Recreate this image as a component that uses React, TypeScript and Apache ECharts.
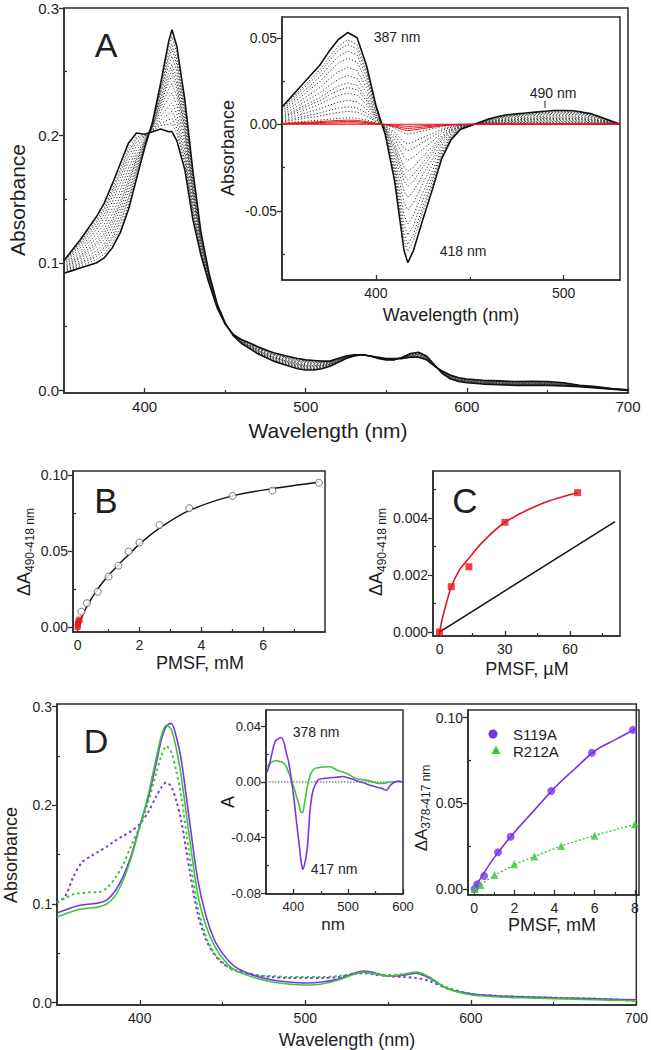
import React, { useEffect, useRef } from "react";
import * as echarts from "echarts";

const FONT = "'Liberation Sans', Arial, Helvetica, sans-serif";
const INK = "#2e2e2e";
const TXT = "#1e1e1e";
const PURPLE = "#7b35e6";
const GREEN = "#3cc43c";
const RED = "#e8141c";

// ---------- Panel A: absorbance spectra (start and end of the titration) ----------
const WL_MAIN = [350,355,360,365,370,375,380,385,390,395,400,405,410,415,417,420,425,430,435,440,445,450,455,460,465,470,475,480,485,490,495,500,505,510,515,520,525,530,535,540,545,550,555,560,565,570,575,580,585,590,595,600,610,620,630,640,650,660,670,680,690,700];
const A_INITIAL = [0.092,0.094,0.096,0.098,0.100,0.104,0.112,0.124,0.142,0.166,0.190,0.211,0.241,0.274,0.283,0.270,0.228,0.172,0.124,0.092,0.068,0.053,0.043,0.037,0.033,0.029,0.026,0.023,0.021,0.019,0.017,0.016,0.016,0.017,0.019,0.022,0.025,0.027,0.028,0.027,0.025,0.024,0.024,0.026,0.029,0.030,0.027,0.020,0.013,0.009,0.007,0.006,0.005,0.0045,0.004,0.004,0.004,0.0035,0.003,0.002,0.001,0.000];
const A_FINAL = [0.102,0.110,0.118,0.127,0.136,0.147,0.162,0.178,0.194,0.202,0.201,0.203,0.205,0.203,0.203,0.196,0.173,0.134,0.106,0.084,0.065,0.052,0.044,0.040,0.0375,0.0345,0.032,0.0295,0.028,0.0265,0.025,0.024,0.0235,0.023,0.023,0.025,0.027,0.028,0.028,0.027,0.026,0.025,0.025,0.025,0.026,0.026,0.024,0.019,0.015,0.012,0.010,0.009,0.008,0.0075,0.007,0.0072,0.007,0.006,0.004,0.003,0.0015,0.0005];
// fraction of the full change reached at each intermediate PMSF addition (dotted traces)
const TITRATION_FRACTIONS = [0.07,0.14,0.19,0.26,0.34,0.40,0.45,0.53,0.62,0.72,0.80,0.87,0.92];
// micromolar additions (red traces in the inset)
const MICROMOLAR_FRACTIONS = [0,0.015,0.03,0.045];

// Inset A: difference spectrum at saturation
const WL_INSET = [350,355,360,365,370,375,380,385,390,395,400,405,410,415,417,420,425,430,435,440,445,450,455,460,465,470,475,480,485,490,495,500,505,510,515,520,525,530];
const DIFF_MAX = [0.010,0.016,0.022,0.028,0.034,0.042,0.049,0.053,0.050,0.034,0.011,-0.006,-0.033,-0.073,-0.080,-0.073,-0.055,-0.038,-0.020,-0.009,-0.003,-0.001,0.001,0.003,0.0045,0.0055,0.006,0.0065,0.007,0.0075,0.008,0.008,0.0078,0.007,0.006,0.004,0.002,0.000];

// ---------- Panel B ----------
const B_PMSF_MM = [0.12,0.30,0.65,1.0,1.32,1.65,2.0,2.65,3.61,5.01,6.3,7.8];
const B_DA = [0.010,0.0156,0.0232,0.0331,0.0403,0.0496,0.0555,0.0671,0.0781,0.0862,0.0897,0.0949];
const B_RED_MM = [0,0.0054,0.0135,0.0301,0.0635];
const B_RED_DA = [0,0.00159,0.00229,0.00385,0.00489];
const B_FIT_X = [0,0.15,0.3,0.65,1,1.35,1.65,2,2.65,3.6,5,6.3,7.8];
const B_FIT_Y = [0,0.0070,0.0135,0.0250,0.0340,0.0415,0.0475,0.0545,0.0650,0.0765,0.0862,0.0910,0.0952];

// ---------- Panel C ----------
const C_PMSF_UM = [0,5.4,13.5,30.1,63.5];
const C_DA = [0,0.00159,0.00229,0.00385,0.00489];
const C_FIT_X = [0,1.5,3.1,5.4,9.2,13.5,20,30.1,47.5,63.5];
const C_FIT_Y = [0,0.00054,0.0010,0.00159,0.00218,0.00259,0.00317,0.00385,0.00452,0.00489];
const C_LINE_X = [0,80.7];
const C_LINE_Y = [0,0.00387];

// ---------- Panel D ----------
const WL_D = [350,355,360,365,370,375,380,385,390,395,400,405,410,413,416,419,422,425,430,435,440,445,450,455,460,470,480,490,500,510,520,530,535,540,550,560,567,575,585,600,615,630,650,675,700];
const S119A_SOLID = [0.091,0.094,0.097,0.099,0.100,0.101,0.104,0.113,0.128,0.150,0.179,0.207,0.243,0.266,0.280,0.283,0.270,0.247,0.185,0.125,0.088,0.064,0.050,0.040,0.034,0.027,0.023,0.021,0.020,0.021,0.024,0.030,0.032,0.031,0.027,0.028,0.030,0.025,0.015,0.009,0.007,0.006,0.005,0.004,0.003];
const R212A_SOLID = [0.087,0.090,0.093,0.095,0.096,0.097,0.100,0.108,0.124,0.148,0.178,0.210,0.248,0.270,0.281,0.277,0.258,0.230,0.168,0.110,0.078,0.058,0.045,0.036,0.031,0.025,0.021,0.019,0.018,0.019,0.023,0.029,0.031,0.030,0.027,0.029,0.031,0.026,0.015,0.008,0.006,0.005,0.004,0.003,0.002];
const S119A_PMSF = [0.101,0.108,0.128,0.142,0.148,0.153,0.158,0.164,0.169,0.174,0.181,0.193,0.209,0.218,0.223,0.219,0.205,0.185,0.135,0.090,0.064,0.049,0.040,0.035,0.032,0.028,0.026,0.025,0.025,0.025,0.026,0.029,0.030,0.029,0.027,0.026,0.025,0.022,0.015,0.009,0.007,0.006,0.005,0.004,0.002];
const R212A_PMSF = [0.102,0.106,0.110,0.111,0.112,0.112,0.116,0.126,0.140,0.160,0.178,0.203,0.233,0.250,0.260,0.254,0.235,0.210,0.150,0.097,0.067,0.050,0.041,0.034,0.031,0.028,0.027,0.026,0.026,0.026,0.027,0.030,0.031,0.030,0.028,0.029,0.030,0.025,0.016,0.009,0.007,0.006,0.005,0.004,0.002];

// Inset D1: difference spectra
const WL_D1 = [352,356,360,364,368,372,378,383,387,391,394,397,401,406,410,414,417,420,423,426,430,433,436,440,445,455,467,480,491,500,509,518,528,537,546,555,561,566,570,574,578,585,592,600];
const S119A_DIFF = [0.007,0.012,0.019,0.026,0.030,0.031,0.032,0.028,0.021,0.015,0.008,0.000,-0.012,-0.030,-0.043,-0.057,-0.063,-0.060,-0.054,-0.045,-0.022,-0.012,-0.006,-0.002,0.0015,0.0025,0.003,0.0035,0.004,0.003,0.002,0.0005,-0.0005,-0.002,-0.003,-0.004,-0.0045,-0.0055,-0.006,-0.004,-0.002,0.000,0.0005,0.000];
const R212A_DIFF = [0.011,0.013,0.014,0.015,0.0155,0.015,0.0145,0.013,0.011,0.007,0.004,0.000,-0.004,-0.011,-0.016,-0.022,-0.022,-0.016,-0.009,-0.002,0.004,0.007,0.0086,0.0098,0.0103,0.0108,0.011,0.0085,0.007,0.0058,0.0035,0.0022,0.0015,0.001,0.000,-0.001,-0.001,-0.0008,-0.0005,-0.0003,0.000,0.000,0.0005,0.000];

// Inset D2: binding curves
const S119A_MM = [0.03,0.15,0.5,1.19,1.82,3.84,5.86,7.9];
const S119A_DA = [0,0.0027,0.0076,0.0214,0.0305,0.0572,0.0795,0.0928];
const S119A_FIT_X = [0,0.5,1,2,3,4,5,6,7,8];
const S119A_FIT_Y = [0,0.0095,0.0183,0.0330,0.0460,0.0590,0.0700,0.0805,0.0870,0.0932];
const R212A_MM = [0.03,0.33,1.02,2.0,3.0,4.33,5.99,8.0];
const R212A_DA = [0,0.0023,0.0082,0.0144,0.0189,0.0251,0.0311,0.0377];
const R212A_FIT_X = [0,0.33,1,2,3,4.33,6,8];
const R212A_FIT_Y = [0,0.0025,0.0077,0.0140,0.0190,0.0250,0.0312,0.0377];

const pairs = (xs: number[], ys: number[]) => xs.map((x, i) => [x, ys[i]]);

type AxisSpec = {
  min: number; max: number; majors: number[]; minors: number[];
  dec: number; fs: number;
};

function buildOption() {
  const grids: any[] = [];
  const xAxes: any[] = [];
  const yAxes: any[] = [];
  const series: any[] = [];

  const major = (kind: "x" | "y", gi: number, a: AxisSpec) => ({
    type: "value", gridIndex: gi, min: a.min, max: a.max,
    position: kind === "x" ? "bottom" : "left",
    splitLine: { show: false },
    axisLine: { show: true, onZero: false, lineStyle: { color: INK, width: 1.6 } },
    axisTick: { show: true, inside: kind === "x", length: 5, customValues: a.majors, lineStyle: { color: INK, width: 1.3 } },
    axisLabel: {
      show: true, customValues: a.majors, margin: kind === "x" ? 6 : 5,
      formatter: (v: number) => v.toFixed(a.dec),
      fontSize: a.fs, fontFamily: FONT, color: TXT,
    },
  });
  const minor = (kind: "x" | "y", gi: number, a: AxisSpec) => ({
    type: "value", gridIndex: gi, min: a.min, max: a.max,
    position: kind === "x" ? "bottom" : "left",
    splitLine: { show: false },
    axisLine: { show: false, onZero: false },
    axisTick: { show: true, inside: true, length: 3, customValues: a.minors, lineStyle: { color: INK, width: 1.2 } },
    axisLabel: { show: false },
  });

  const panel = (rect: number[], x: AxisSpec, y: AxisSpec) => {
    const gi = grids.length;
    grids.push({
      left: rect[0], top: rect[1], width: rect[2] - rect[0], height: rect[3] - rect[1],
      show: true, borderColor: INK, borderWidth: 1.5, backgroundColor: "transparent",
    });
    const xi = xAxes.length;
    xAxes.push(major("x", gi, x), minor("x", gi, x));
    const yi = yAxes.length;
    yAxes.push(major("y", gi, y), minor("y", gi, y));
    return { xi, yi };
  };

  const line = (p: any, data: number[][], color: string, width: number, type: any = "solid", smooth: any = false, name?: string) => {
    series.push({
      type: "line", name, xAxisIndex: p.xi, yAxisIndex: p.yi, data, symbol: "none", showSymbol: false,
      smooth, lineStyle: { color, width, type }, silent: true, z: 3,
    });
  };
  const scatter = (p: any, data: number[][], symbol: string, size: number, itemStyle: any, name?: string) => {
    series.push({
      type: "scatter", name, xAxisIndex: p.xi, yAxisIndex: p.yi, data, symbol, symbolSize: size,
      itemStyle, silent: true, z: 4,
    });
  };

  // ---- A main
  const pA = panel([64, 8, 628, 393],
    { min: 350, max: 700, majors: [400, 500, 600, 700], minors: [450, 550, 650], dec: 0, fs: 15 },
    { min: -0.002, max: 0.3, majors: [0, 0.1, 0.2, 0.3], minors: [0.05, 0.15, 0.25], dec: 1, fs: 15 });
  TITRATION_FRACTIONS.forEach((f) => {
    line(pA, WL_MAIN.map((w, i) => [w, A_INITIAL[i] + f * (A_FINAL[i] - A_INITIAL[i])]), "#333", 1, [1.2, 2]);
  });
  line(pA, pairs(WL_MAIN, A_INITIAL), "#111", 1.6);
  line(pA, pairs(WL_MAIN, A_FINAL), "#111", 1.6);

  // ---- A inset
  const pAi = panel([282, 17, 620, 280],
    { min: 350, max: 530, majors: [400, 500], minors: [450], dec: 0, fs: 14 },
    { min: -0.09, max: 0.062, majors: [-0.05, 0, 0.05], minors: [-0.075, -0.025, 0.025], dec: 2, fs: 14 });
  TITRATION_FRACTIONS.forEach((f) => {
    line(pAi, WL_INSET.map((w, i) => [w, f * DIFF_MAX[i]]), "#333", 1, [1.2, 2]);
  });
  line(pAi, pairs(WL_INSET, DIFF_MAX), "#111", 1.6);
  MICROMOLAR_FRACTIONS.forEach((f) => {
    line(pAi, WL_INSET.map((w, i) => [w, f * DIFF_MAX[i]]), RED, 1);
  });

  // ---- B
  const pB = panel([73, 471, 325, 632],
    { min: -0.15, max: 8, majors: [0, 2, 4, 6], minors: [1, 3, 5, 7], dec: 0, fs: 14 },
    { min: -0.0033, max: 0.1026, majors: [0, 0.05, 0.1], minors: [0.025, 0.075], dec: 2, fs: 14 });
  line(pB, pairs(B_FIT_X, B_FIT_Y), "#111", 1.4, "solid", 0.3);
  scatter(pB, pairs(B_PMSF_MM, B_DA), "circle", 7, { color: "#fff", borderColor: "#555", borderWidth: 1 });
  scatter(pB, pairs(B_RED_MM, B_RED_DA), "rect", 6, { color: RED });

  // ---- C
  const pC = panel([433, 471, 620, 636],
    { min: -3, max: 83, majors: [0, 30, 60], minors: [15, 45, 75], dec: 0, fs: 14 },
    { min: -0.00014, max: 0.00565, majors: [0, 0.002, 0.004], minors: [0.001, 0.003, 0.005], dec: 3, fs: 14 });
  line(pC, pairs(C_LINE_X, C_LINE_Y), "#111", 1.5);
  line(pC, pairs(C_FIT_X, C_FIT_Y), RED, 1.6, "solid", 0.3);
  scatter(pC, pairs(C_PMSF_UM, C_DA), "rect", 7, { color: RED });

  // ---- D main
  const pD = panel([57, 704, 640, 1005],
    { min: 350, max: 700, majors: [400, 500, 600, 700], minors: [450, 550, 650], dec: 0, fs: 14 },
    { min: -0.0023, max: 0.3026, majors: [0, 0.1, 0.2, 0.3], minors: [0.05, 0.15, 0.25], dec: 1, fs: 14 });
  line(pD, pairs(WL_D, S119A_PMSF), PURPLE, 2, [2.5, 3], 0.3);
  line(pD, pairs(WL_D, R212A_PMSF), GREEN, 2, [2.5, 3], 0.3);
  line(pD, pairs(WL_D, S119A_SOLID), PURPLE, 1.6, "solid", 0.3);
  line(pD, pairs(WL_D, R212A_SOLID), GREEN, 1.6, "solid", 0.3);

  // ---- D inset 1
  const pD1 = panel([266, 710, 403, 894],
    { min: 350, max: 600, majors: [400, 500, 600], minors: [450, 550], dec: 0, fs: 13 },
    { min: -0.0806, max: 0.0518, majors: [-0.08, -0.04, 0, 0.04], minors: [-0.06, -0.02, 0.02], dec: 2, fs: 13 });
  line(pD1, [[350, 0], [600, 0]], "#555", 1, [1.5, 1.5]);
  line(pD1, pairs(WL_D1, R212A_DIFF), GREEN, 1.6, "solid", 0.2);
  line(pD1, pairs(WL_D1, S119A_DIFF), PURPLE, 1.6, "solid", 0.2);

  // ---- D inset 2
  const pD2 = panel([468, 710, 639, 895],
    { min: -0.3, max: 8.2, majors: [0, 2, 4, 6, 8], minors: [1, 3, 5, 7], dec: 0, fs: 14 },
    { min: -0.0035, max: 0.1044, majors: [0, 0.05, 0.1], minors: [0.025, 0.075], dec: 2, fs: 14 });
  line(pD2, pairs(S119A_FIT_X, S119A_FIT_Y), PURPLE, 1.6, "solid", 0.3);
  line(pD2, pairs(R212A_FIT_X, R212A_FIT_Y), GREEN, 1.4, [2, 2], 0.3);
  scatter(pD2, pairs(S119A_MM, S119A_DA), "circle", 8, { color: PURPLE }, "S119A");
  scatter(pD2, pairs(R212A_MM, R212A_DA), "triangle", 8, { color: GREEN }, "R212A");

  // ---- texts
  const t = (text: string, x: number, y: number, fontSize: number, extra: any = {}) => ({
    type: "text", x, y, silent: true, z: 20,
    rotation: extra.rot ? Math.PI / 2 : 0,
    style: {
      text, fontSize, fontFamily: FONT, fill: TXT,
      align: extra.align || "center", verticalAlign: "middle", rich: extra.rich,
    },
  });
  const sub = (a: string, s: string, x: number, y: number, fa: number, fsub: number) =>
    t(`{a|${a}}{s|${s}}`, x, y, fa, {
      rot: true,
      rich: {
        a: { fontSize: fa, fontFamily: FONT, fill: TXT, lineHeight: fa + 5 },
        s: { fontSize: fsub, fontFamily: FONT, fill: TXT, verticalAlign: "bottom" },
      },
    });

  const graphic: any[] = [
    t("A", 106, 45, 34),
    t("Absorbance", 17, 200, 21, { rot: true }),
    t("Wavelength (nm)", 328, 430, 21),
    t("Absorbance", 228, 148, 18, { rot: true }),
    t("Wavelength (nm)", 451, 315, 18),
    t("387 nm", 397, 37, 14),
    t("490 nm", 553, 93, 14),
    t("418 nm", 463, 251, 14),
    { type: "line", silent: true, z: 20, shape: { x1: 545, y1: 101, x2: 545, y2: 108 }, style: { stroke: "#222", lineWidth: 1 } },

    t("B", 106, 500, 35),
    t("PMSF, mM", 200, 663, 18),
    sub("ΔA", "490-418 nm", 24, 552, 18, 12),

    t("C", 465, 500, 35),
    t("PMSF, µM", 527, 669, 18),
    sub("ΔA", "490-418 nm", 376, 552, 18, 12),

    t("D", 96, 741, 34),
    t("Absorbance", 11, 855, 18, { rot: true }),
    t("Wavelength (nm)", 347, 1040, 18),
    t("A", 228, 802, 18, { rot: true }),
    t("nm", 333, 924, 17),
    t("378 nm", 316, 732, 14),
    t("417 nm", 334, 869, 14),

    t("PMSF, mM", 552, 925, 18),
    sub("ΔA", "378-417 nm", 421, 808, 17, 12),
    { type: "circle", silent: true, z: 20, shape: { cx: 493, cy: 734, r: 4.5 }, style: { fill: PURPLE } },
    { type: "polygon", silent: true, z: 20, shape: { points: [[496, 745.5], [491.5, 754], [500.5, 754]] }, style: { fill: GREEN } },
    t("S119A", 513, 734, 15, { align: "left" }),
    t("R212A", 513, 751, 15, { align: "left" }),
  ];

  return {
    animation: false,
    backgroundColor: "#ffffff",
    grid: grids,
    xAxis: xAxes,
    yAxis: yAxes,
    series,
    graphic,
  };
}

export default function App() {
  const ref = useRef<HTMLDivElement>(null);
  useEffect(() => {
    if (!ref.current) return;
    const chart = echarts.init(ref.current, undefined, { renderer: "svg", width: 651, height: 1050 });
    chart.setOption(buildOption() as any);
    return () => chart.dispose();
  }, []);
  return (
    <div
      ref={ref}
      style={{ position: "fixed", left: 0, top: 0, width: 651, height: 1050, background: "#fff" }}
    />
  );
}
